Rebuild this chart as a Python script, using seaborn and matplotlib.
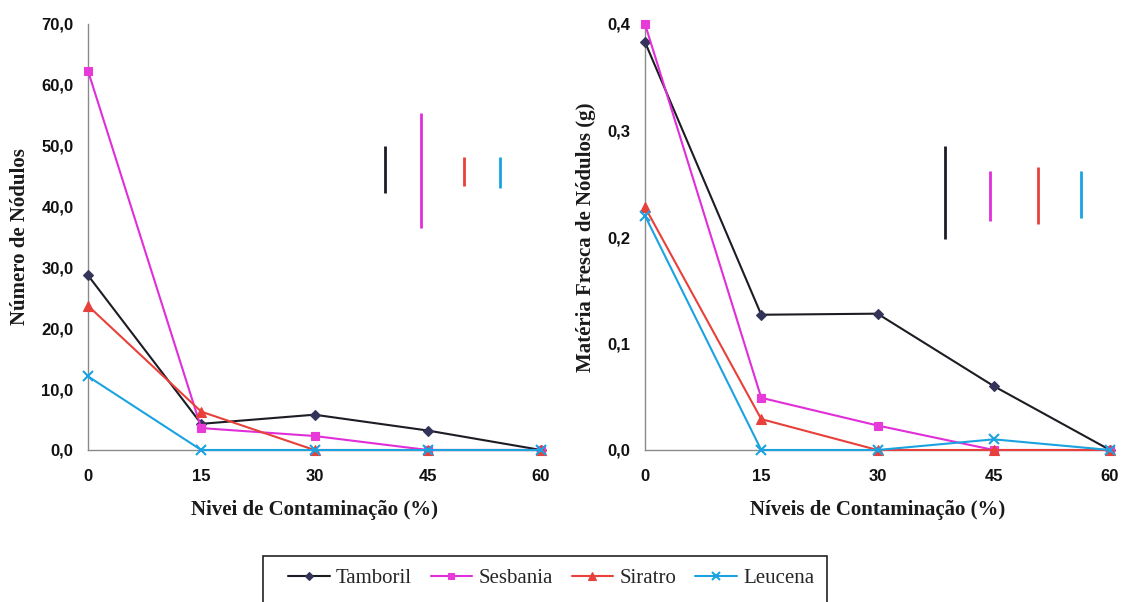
import matplotlib
matplotlib.use("Agg")
import matplotlib.pyplot as plt
from matplotlib.patches import Rectangle
from matplotlib.ticker import FuncFormatter
import seaborn as sns
import pandas as pd

levels = [0, 15, 30, 45, 60]
species = ["Tamboril", "Sesbania", "Siratro", "Leucena"]

nod_tamboril = [28.7, 4.3, 5.8, 3.2, 0.0]
nod_sesbania = [62.3, 3.6, 2.3, 0.0, 0.0]
nod_siratro = [23.7, 6.3, 0.0, 0.0, 0.0]
nod_leucena = [12.1, 0.0, 0.0, 0.0, 0.0]

mf_tamboril = [0.383, 0.127, 0.128, 0.060, 0.0]
mf_sesbania = [0.400, 0.049, 0.023, 0.0, 0.0]
mf_siratro = [0.228, 0.029, 0.0, 0.0, 0.0]
mf_leucena = [0.220, 0.0, 0.0, 0.010, 0.0]

# DMS (least significant difference) bars
dms_nod_x = [39.3, 44.1, 49.8, 54.6]
dms_nod_low = [42.2, 36.5, 43.3, 43.0]
dms_nod_high = [49.9, 55.4, 48.2, 48.2]
dms_mf_x = [38.7, 44.5, 50.7, 56.2]
dms_mf_low = [0.198, 0.215, 0.212, 0.218]
dms_mf_high = [0.285, 0.262, 0.266, 0.262]

x_ticks = [0, 15, 30, 45, 60]
nod_ticks = [0, 10, 20, 30, 40, 50, 60, 70]
mf_ticks = [0.0, 0.1, 0.2, 0.3, 0.4]

xlabel_left = "Nivei de Contaminação (%)"
xlabel_right = "Níveis de Contaminação (%)"
ylabel_left = "Número de Nódulos"
ylabel_right = "Matéria Fresca de Nódulos (g)"

line_colors = {"Tamboril": "#1c1c24", "Sesbania": "#e02ed8", "Siratro": "#e8403a", "Leucena": "#1aa3e0"}
marker_colors = {"Tamboril": "#34345a", "Sesbania": "#e83ad8", "Siratro": "#e8403a", "Leucena": "#1aa3e0"}
markers = {"Tamboril": "D", "Sesbania": "s", "Siratro": "^", "Leucena": "x"}
msizes = {"Tamboril": 5.5, "Sesbania": 6, "Siratro": 6.5, "Leucena": 7}

sns.set_theme(style="white")
plt.rcParams["font.family"] = ["Liberation Sans", "DejaVu Sans"]

def long_df(series):
    rows = []
    for sp, vals in zip(species, series):
        for lv, v in zip(levels, vals):
            rows.append({"nivel": lv, "valor": v, "especie": sp})
    return pd.DataFrame(rows)

df_nod = long_df([nod_tamboril, nod_sesbania, nod_siratro, nod_leucena])
df_mf = long_df([mf_tamboril, mf_sesbania, mf_siratro, mf_leucena])

fig = plt.figure(figsize=(11.21, 6.02), dpi=100)
ax1 = fig.add_axes([88/1121, 1-450/602, 453/1121, 426/602])
ax2 = fig.add_axes([645/1121, 1-450/602, 465/1121, 426/602])

serif = ["Liberation Serif", "DejaVu Serif"]

def draw(ax, df, ylim, yticks, fmt, dx, dlo, dhi, xlabel, ylabel):
    for sp in species:
        sub = df[df["especie"] == sp]
        sns.lineplot(data=sub, x="nivel", y="valor", ax=ax, color=line_colors[sp],
                     marker=markers[sp], markersize=msizes[sp],
                     markerfacecolor=marker_colors[sp], markeredgecolor=marker_colors[sp],
                     markeredgewidth=1.5 if sp == "Leucena" else 0.8,
                     linewidth=1.5, label=sp, legend=False, clip_on=False, zorder=3)
    for x, lo, hi, sp in zip(dx, dlo, dhi, species):
        ax.vlines(x, lo, hi, color=line_colors[sp], linewidth=2)
    ax.set_xlim(0, 60)
    ax.set_ylim(*ylim)
    ax.set_xticks(x_ticks)
    ax.set_yticks(yticks)
    ax.yaxis.set_major_formatter(FuncFormatter(lambda v, p: fmt.format(v).replace(".", ",")))
    for s in ["top", "right"]:
        ax.spines[s].set_visible(False)
    for s in ["left", "bottom"]:
        ax.spines[s].set_color("#8a8a8a")
        ax.spines[s].set_linewidth(1.0)
    ax.tick_params(axis="both", direction="inout", length=7, width=1.0, color="#8a8a8a",
                   labelsize=12, labelcolor="#111111", pad=7)
    ax.tick_params(axis="x", pad=10)
    for lab in ax.get_xticklabels() + ax.get_yticklabels():
        lab.set_fontweight("bold")
    ax.set_xlabel(xlabel, family=serif, fontweight="bold", fontsize=15, color="#1a1a1a", labelpad=12)
    ax.set_ylabel(ylabel, family=serif, fontweight="bold", fontsize=15, color="#1a1a1a", labelpad=8)
    ax.set_facecolor("white")

draw(ax1, df_nod, (0, 70), nod_ticks, "{:.1f}", dms_nod_x, dms_nod_low, dms_nod_high,
     xlabel_left, ylabel_left)
draw(ax2, df_mf, (0, 0.4), mf_ticks, "{:.1f}", dms_mf_x, dms_mf_low, dms_mf_high,
     xlabel_right, ylabel_right)

# legend
handles, labels = ax1.get_legend_handles_labels()
handles = handles[:4]
labels = labels[:4]
fig.patches.append(Rectangle((263/1121, -0.02), (827-263)/1121, 1-556/602+0.02,
                             transform=fig.transFigure, fill=False, edgecolor="#222222",
                             linewidth=1.2))
leg = fig.legend(handles, labels, loc="center", bbox_to_anchor=(551/1121, 1-578/602),
                 ncol=4, frameon=False, prop={"family": serif, "size": 15},
                 handlelength=2.0, handletextpad=0.3, columnspacing=0.9, markerscale=0.8)

fig.savefig("out.png", dpi=100, facecolor="white")
